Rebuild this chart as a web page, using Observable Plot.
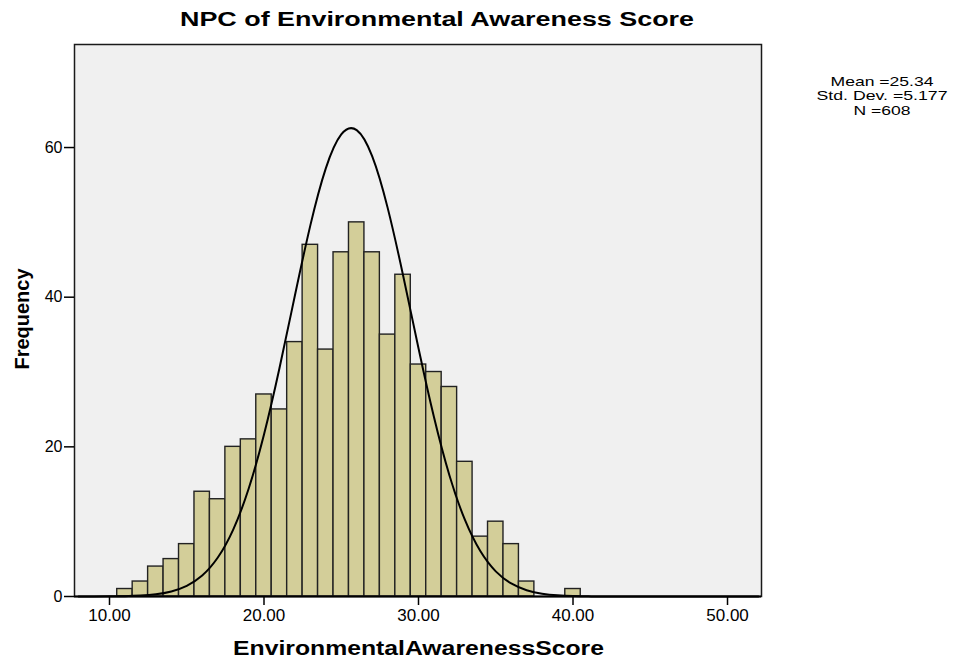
<!DOCTYPE html>
<html>
<head>
<meta charset="utf-8">
<script src="https://cdn.jsdelivr.net/npm/d3@7"></script>
<script src="https://cdn.jsdelivr.net/npm/@observablehq/plot@0.6"></script>
<style>
  html, body { margin: 0; padding: 0; background: #ffffff; }
  #chart svg { display: block; }
</style>
</head>
<body>
<div id="chart"></div>
<script>
// ---- Data ----
const titleText = "NPC of Environmental Awareness Score";
const xLabel = "EnvironmentalAwarenessScore";
const yLabel = "Frequency";
const statLines = ["Mean =25.34", "Std. Dev. =5.177", "N =608"];

// histogram bins (bin centres, width 1) and frequencies
const binCenters = [11,12,13,14,15,16,17,18,19,20,21,22,23,24,25,26,27,28,29,30,31,32,33,34,35,36,37,38,39,40];
const counts     = [1,2,4,5,7,14,13,20,21,27,25,34,47,33,46,50,46,35,43,31,30,28,18,8,10,7,2,0,0,1];
const binWidth = 1;

// normal curve
const curveX = [8,9,10,11,12,13,14,15,16,17,18,19,20,21,22,23,24,25,26,27,28,29,30,31,32,33,34,35,36,37,38,39,40,41,42,44,46,48,50,52];
const curveY = [0,0.006,0.02,0.05,0.13,0.30,0.68,1.43,2.81,5.18,8.91,14.37,21.65,30.51,40.22,49.60,57.22,61.75,62.33,58.85,51.97,42.94,33.18,23.98,16.21,10.26,6.07,3.36,1.74,0.84,0.38,0.16,0.06,0.02,0.01,0,0,0,0,0];

const xTicks = [10, 20, 30, 40, 50];
const yTicks = [0, 20, 40, 60];

// ---- Build tables ----
const bins = binCenters.map((c, i) => ({x1: c - binWidth / 2, x2: c + binWidth / 2, count: counts[i]}));
const curve = curveX.map((x, i) => ({x, y: curveY[i]}));

const font = "'Liberation Sans', Arial, Helvetica, sans-serif";

const plot = Plot.plot({
  width: 953,
  height: 658,
  marginLeft: 74,
  marginRight: 192,
  marginTop: 44,
  marginBottom: 62,
  style: {fontFamily: font, background: "#ffffff", color: "#000000", overflow: "visible"},
  x: {type: "linear", domain: [7.735, 52.2]},
  y: {type: "linear", domain: [0, 73.77]},
  marks: [
    Plot.frame({fill: "#f0f0f0", stroke: null}),
    Plot.rectY(bins.filter(d => d.count > 0), {
      x1: "x1", x2: "x2", y: "count",
      fill: "#d3ce99", stroke: "#222222", strokeWidth: 1.4, inset: 0
    }),
    Plot.line(curve, {x: "x", y: "y", curve: "natural", stroke: "#000000", strokeWidth: 2}),
    Plot.frame({stroke: "#1a1a1a", strokeWidth: 1.5}),
    Plot.ruleY([0], {stroke: "#000000", strokeWidth: 2}),
    Plot.axisX({
      ticks: xTicks, tickFormat: d3.format(".2f"), tickSize: 9, tickPadding: 3,
      fontSize: 17, label: null, stroke: "#000000", strokeWidth: 1.5
    }),
    Plot.axisY({
      ticks: yTicks, tickSize: 10, tickPadding: 2,
      fontSize: 16, label: null, stroke: "#000000", strokeWidth: 1.5
    })
  ]
});

const svg = d3.select(plot);

svg.append("text")
  .attr("x", 437).attr("y", 26)
  .attr("text-anchor", "middle")
  .attr("font-family", font).attr("font-weight", "bold").attr("font-size", 19.5)
  .attr("textLength", 514).attr("lengthAdjust", "spacingAndGlyphs")
  .attr("fill", "#000")
  .text(titleText);

svg.append("text")
  .attr("x", 418.5).attr("y", 655)
  .attr("text-anchor", "middle")
  .attr("font-family", font).attr("font-weight", "bold").attr("font-size", 20)
  .attr("textLength", 371).attr("lengthAdjust", "spacingAndGlyphs")
  .attr("fill", "#000")
  .text(xLabel);

svg.append("text")
  .attr("transform", "translate(29,319) rotate(-90)")
  .attr("text-anchor", "middle")
  .attr("font-family", font).attr("font-weight", "bold").attr("font-size", 20)
  .attr("fill", "#000")
  .text(yLabel);

const statLengths = [103, 131, 57];
statLines.forEach((s, i) => {
  svg.append("text")
    .attr("x", 882).attr("y", 85.5 + i * 14.5)
    .attr("text-anchor", "middle")
    .attr("font-family", font).attr("font-size", 12.6)
    .attr("textLength", statLengths[i]).attr("lengthAdjust", "spacingAndGlyphs")
    .attr("fill", "#000")
    .text(s);
});

document.getElementById("chart").appendChild(plot);
</script>
</body>
</html>
